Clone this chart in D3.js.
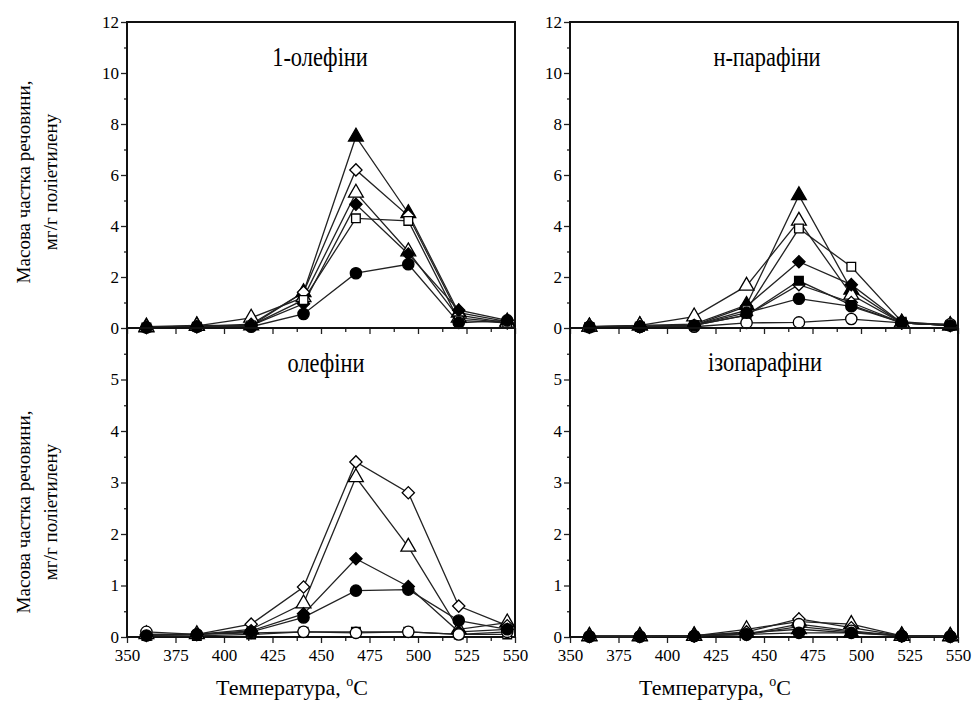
<!DOCTYPE html>
<html>
<head>
<meta charset="utf-8">
<script src="https://cdn.jsdelivr.net/npm/d3@7"></script>
<style>
  body { margin: 0; background: #fff; }
  text { font-family: "Liberation Serif", "DejaVu Serif", "Times New Roman", serif; fill: #000; }
</style>
</head>
<body>
<div id="chart"></div>
<script>
"use strict";

// temperatures of the measured points, °C
var temps = [360, 386, 414, 441, 468, 495, 521, 546];

// marker of each series (same order in every panel)
var markers = ["triangleFilled", "triangleOpen", "diamondOpen", "diamondFilled",
               "squareOpen", "squareFilled", "circleOpen", "circleFilled"];

// 1-олефіни, mg/g
var olefins1 = [
  [0.05, 0.1, 0.1, 1.4, 7.5, 4.5, 0.6, 0.25],
  [0.02, 0.08, 0.4, 1.2, 5.3, 3.0, 0.4, 0.2],
  [0.02, 0.05, 0.15, 1.4, 6.2, 4.4, 0.5, 0.2],
  [0.02, 0.05, 0.1, 0.95, 4.85, 2.9, 0.7, 0.3],
  [0.02, 0.05, 0.1, 1.1, 4.3, 4.2, 0.3, 0.2],
  null,
  null,
  [0.02, 0.05, 0.05, 0.55, 2.15, 2.5, 0.2, 0.3]
];

// н-парафіни
var nParaffins = [
  [0.05, 0.1, 0.15, 0.9, 5.2, 1.5, 0.2, 0.1],
  [0.05, 0.1, 0.45, 1.65, 4.2, 1.3, 0.2, 0.1],
  [0.03, 0.05, 0.1, 0.5, 1.7, 1.0, 0.2, 0.1],
  [0.03, 0.05, 0.1, 0.85, 2.6, 1.7, 0.2, 0.1],
  [0.03, 0.05, 0.1, 0.7, 3.9, 2.4, 0.25, 0.1],
  [0.03, 0.05, 0.1, 0.5, 1.85, 0.9, 0.2, 0.1],
  [0.05, 0.05, 0.05, 0.2, 0.22, 0.35, 0.2, 0.15],
  [0.03, 0.05, 0.1, 0.6, 1.15, 0.85, 0.2, 0.1]
];

// олефіни
var olefins = [
  null,
  [0.05, 0.05, 0.15, 0.65, 3.1, 1.75, 0.15, 0.28],
  [0.05, 0.05, 0.25, 0.97, 3.4, 2.8, 0.6, 0.22],
  [0.03, 0.05, 0.12, 0.45, 1.52, 0.98, 0.1, 0.15],
  [0.02, 0.02, 0.05, 0.1, 0.1, 0.1, 0.05, 0.05],
  null,
  [0.1, 0.05, 0.08, 0.1, 0.08, 0.1, 0.05, 0.1],
  [0.03, 0.05, 0.1, 0.38, 0.9, 0.92, 0.32, 0.15]
];

// ізопарафіни
var isoParaffins = [
  [0.02, 0.02, 0.03, 0.08, 0.15, 0.08, 0.03, 0.02],
  [0.01, 0.01, 0.02, 0.15, 0.3, 0.25, 0.02, 0.01],
  [0.01, 0.01, 0.02, 0.1, 0.35, 0.18, 0.02, 0.01],
  [0.01, 0.01, 0.02, 0.05, 0.2, 0.1, 0.02, 0.01],
  null,
  null,
  [0.01, 0.01, 0.02, 0.05, 0.25, 0.12, 0.02, 0.01],
  [0.01, 0.01, 0.02, 0.05, 0.08, 0.08, 0.02, 0.01]
];

var xTicks = [350, 375, 400, 425, 450, 475, 500, 525, 550];
var xMinorTicks = [362.5, 387.5, 412.5, 437.5, 462.5, 487.5, 512.5, 537.5];
var yTopTicks = [0, 2, 4, 6, 8, 10, 12];
var yTopMinor = [1, 3, 5, 7, 9, 11];
var yBotTicks = [0, 1, 2, 3, 4, 5];
var yBotMinor = [0.5, 1.5, 2.5, 3.5, 4.5, 5.5];

var titles = ["1-олефіни", "н-парафіни", "олефіни", "ізопарафіни"];
var yLabel = ["Масова частка речовини,", "мг/г поліетилену"];
var xLabel = "Температура, ";

var width = 975;
var height = 704;
var serif = "Liberation Serif, DejaVu Serif, serif";

var svg = d3.select("#chart").append("svg")
  .attr("width", width)
  .attr("height", height);

var xLeft = d3.scaleLinear().domain([350, 550]).range([127, 515]);
var xRight = d3.scaleLinear().domain([350, 550]).range([570, 958]);
var yTop = d3.scaleLinear().domain([0, 12]).range([328, 22]);
var yBot = d3.scaleLinear().domain([0, 6]).range([637, 328]);

var panels = [
  { x: xLeft, y: yTop, data: olefins1, title: titles[0], tx: 320, ty: 66, top: true },
  { x: xRight, y: yTop, data: nParaffins, title: titles[1], tx: 767, ty: 66, top: true },
  { x: xLeft, y: yBot, data: olefins, title: titles[2], tx: 326, ty: 372, top: false },
  { x: xRight, y: yBot, data: isoParaffins, title: titles[3], tx: 765, ty: 371, top: false }
];

function symbolFor(m) {
  if (m.indexOf("triangle") == 0) return d3.symbol().type(d3.symbolTriangle).size(95)();
  if (m.indexOf("diamond") == 0) return d3.symbol().type(d3.symbolSquare).size(75)();
  if (m.indexOf("square") == 0) return d3.symbol().type(d3.symbolSquare).size(75)();
  return d3.symbol().type(d3.symbolCircle).size(100)();
}

function styleAxis(a) {
  a.select(".domain").remove();
  a.attr("font-family", serif);
  a.selectAll("text").attr("font-size", 17).attr("fill", "#111");
  a.selectAll("line").attr("stroke", "#222").attr("stroke-width", 1.3);
}

panels.forEach(function(p) {
  var g = svg.append("g");
  var x0 = p.x.range()[0], x1 = p.x.range()[1];
  var y0 = p.y.range()[1], y1 = p.y.range()[0];

  // y axis, major + minor
  g.append("g")
    .attr("transform", "translate(" + x0 + ",0)")
    .call(d3.axisLeft(p.y).tickValues(p.top ? yTopTicks : yBotTicks).tickSize(6).tickPadding(2)
      .tickFormat(d3.format("d")))
    .call(styleAxis);
  g.append("g")
    .attr("transform", "translate(" + x0 + ",0)")
    .call(d3.axisLeft(p.y).tickValues(p.top ? yTopMinor : yBotMinor).tickSize(3).tickFormat(""))
    .call(styleAxis);

  // x axis at the bottom of the panel
  var xa = d3.axisBottom(p.x).tickValues(xTicks).tickSize(6).tickPadding(6);
  if (p.top) xa.tickFormat("");
  g.append("g")
    .attr("transform", "translate(0," + y1 + ")")
    .call(xa)
    .call(styleAxis);
  g.append("g")
    .attr("transform", "translate(0," + y1 + ")")
    .call(d3.axisBottom(p.x).tickValues(xMinorTicks).tickSize(4).tickFormat(""))
    .call(styleAxis);

  // frame
  g.append("rect")
    .attr("x", x0).attr("y", y0)
    .attr("width", x1 - x0).attr("height", y1 - y0)
    .attr("fill", "none")
    .attr("stroke", "#111")
    .attr("stroke-width", 2);

  // title
  g.append("text")
    .attr("transform", "translate(" + p.tx + "," + p.ty + ") scale(0.8,1)")
    .attr("text-anchor", "middle")
    .attr("font-size", 28)
    .text(p.title);

  var line = d3.line()
    .x(function(d, i) { return p.x(temps[i]); })
    .y(function(d) { return p.y(d); });

  p.data.forEach(function(vals, s) {
    if (!vals) return;
    g.append("path")
      .datum(vals)
      .attr("d", line)
      .attr("fill", "none")
      .attr("stroke", "#222")
      .attr("stroke-width", 1.3);
  });

  p.data.forEach(function(vals, s) {
    if (!vals) return;
    var m = markers[s];
    var filled = m.indexOf("Filled") > 0;
    g.selectAll(null)
      .data(vals)
      .enter()
      .append("path")
      .attr("d", symbolFor(m))
      .attr("transform", function(d, i) {
        return "translate(" + p.x(temps[i]) + "," + p.y(d) + ")" + (m.indexOf("diamond") == 0 ? " rotate(45)" : "");
      })
      .attr("fill", filled ? "#000" : "#fff")
      .attr("stroke", "#000")
      .attr("stroke-width", 1.3);
  });
});

// y axis labels
[182, 512].forEach(function(cy) {
  var t = svg.append("text")
    .attr("transform", "translate(30," + cy + ") rotate(-90)")
    .attr("text-anchor", "middle")
    .attr("font-size", 19);
  t.append("tspan").attr("x", 0).attr("dy", 0).text(yLabel[0]);
  t.append("tspan").attr("x", 0).attr("dy", 27).text(yLabel[1]);
});

// x axis labels
[292, 715].forEach(function(cx) {
  var t = svg.append("text")
    .attr("x", cx).attr("y", 695)
    .attr("text-anchor", "middle")
    .attr("font-size", 22);
  t.append("tspan").text(xLabel);
  t.append("tspan").attr("font-size", 14).attr("dy", -9).text("o");
  t.append("tspan").attr("dy", 9).text("C");
});
</script>
</body>
</html>
